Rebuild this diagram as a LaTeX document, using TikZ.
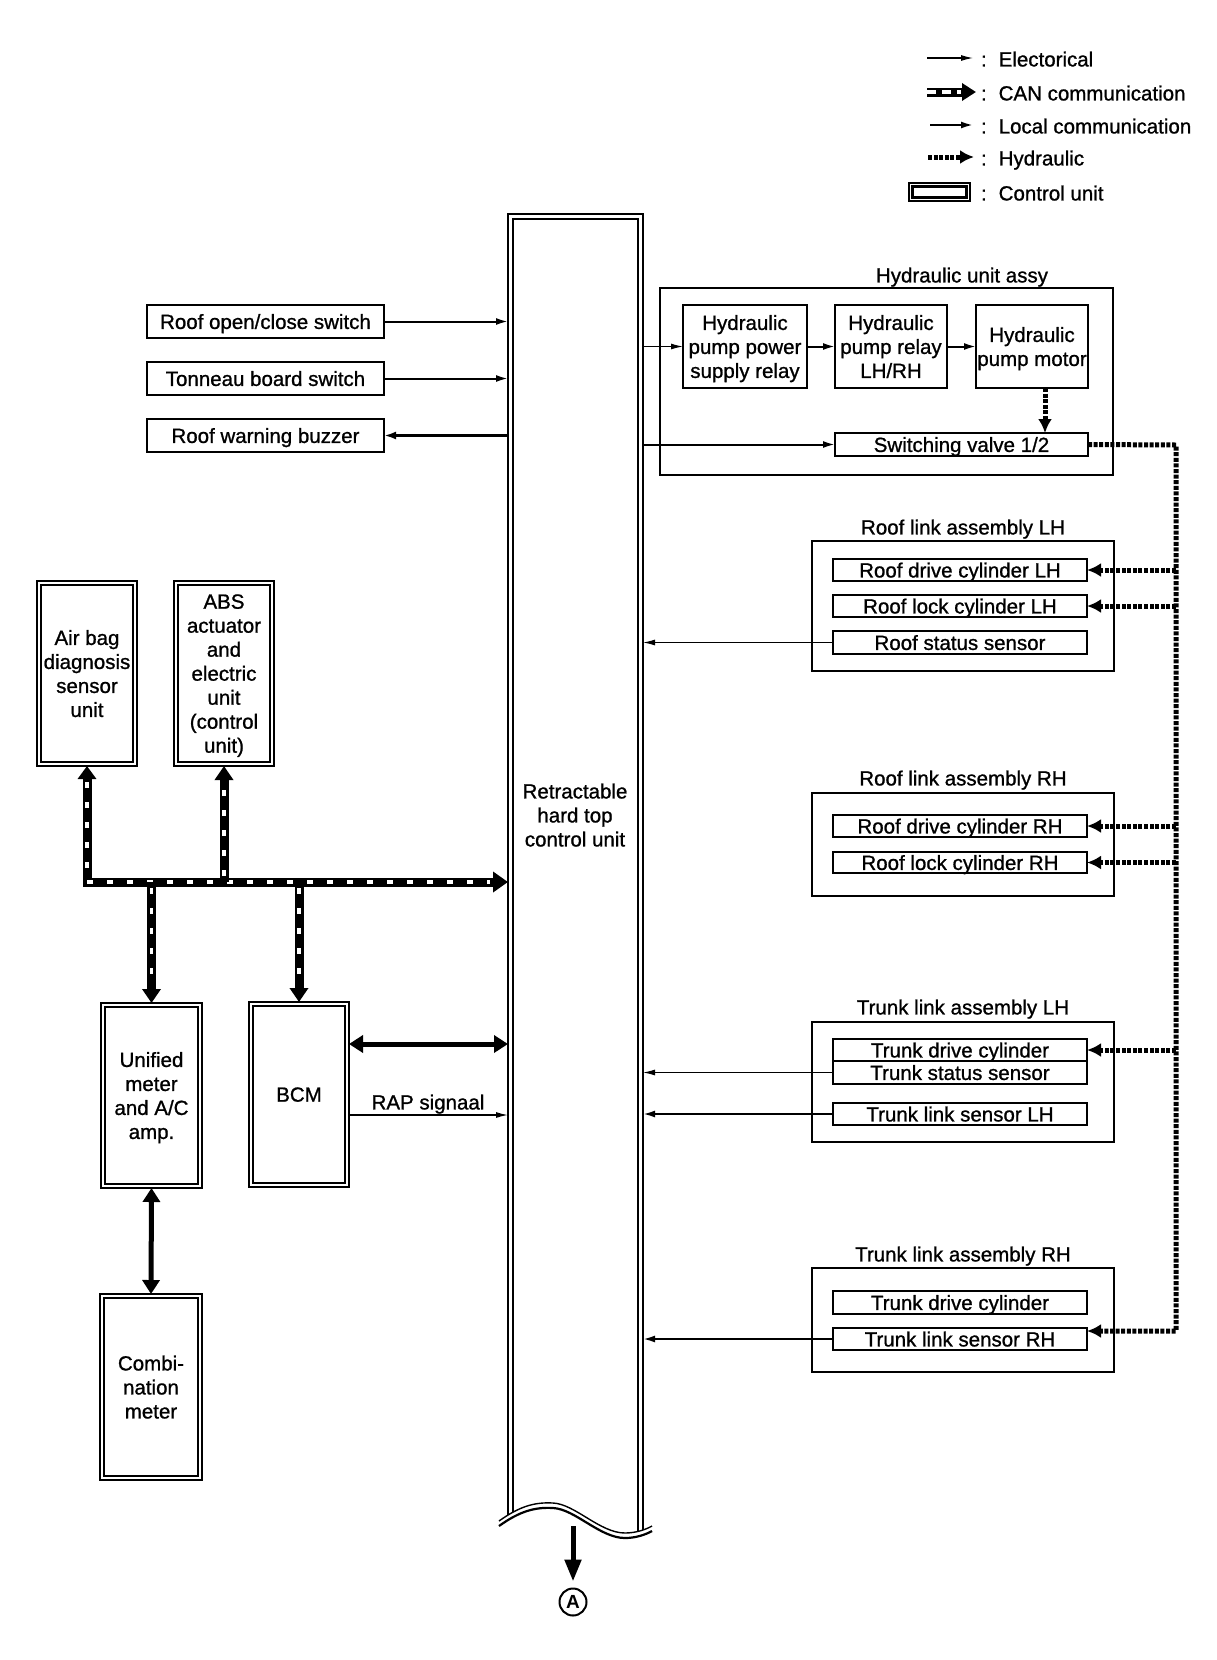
\documentclass[tikz,border=0pt]{standalone}
\usepackage{fontspec}
\setmainfont{Liberation Sans}[UprightFeatures={FakeBold=1}]
\usetikzlibrary{arrows.meta}
\newcommand\mybox[7]{\node[#6, minimum width={#4-#2}, minimum height={#5-#3}] (#1) at ({(#2+#4)/2},{(#3+#5)/2}) {#7};}
\begin{document}
\begin{tikzpicture}[x=1pt,y=-1pt,
  base/.style={font=\fontsize{20.5}{24}\selectfont, inner sep=0pt, outer sep=0pt, align=center, text depth=0pt},
  bx/.style={base, draw, line width=2.2pt},
  sbx/.style={base, draw, line width=1.8pt},
  grp/.style={base, draw, line width=1.6pt},
  cu/.style={base, draw, line width=1.1pt},
  lbl/.style={base},
  el/.style={line width=1.1pt, -{Latex[length=12pt,width=6pt]}},
  loc/.style={line width=2pt, -{Latex[length=12pt,width=7pt]}},
  locb/.style={line width=3pt, -{Latex[length=12pt,width=8pt]}},
  hyd/.style={line width=5pt, dash pattern=on 4pt off 1.6pt},
  hydtip/.style={-{Latex[length=14pt,width=14pt]}},
  canb/.style={line width=9pt},
  canw/.style={line width=3.5pt, white, dash pattern=on 6pt off 14pt},
  dblarr/.style={line width=5pt, {Triangle[length=14pt,width=17pt]}-{Triangle[length=14pt,width=17pt]}},
  cantip/.style={-{Triangle[length=14pt,width=18pt]}}
]
\useasboundingbox (0,0) rectangle (1216,1660);

% ---------- legend ----------
\coordinate (l1a) at (927,58);  \coordinate (l1b) at (973,58);
\coordinate (l2a) at (927,92);  \coordinate (l2b) at (976,92);
\coordinate (l3a) at (930,125); \coordinate (l3b) at (973,125);
\coordinate (l4a) at (928,157); \coordinate (l4b) at (974,157);
\draw[el] (l1a) -- (l1b);
\draw[canb, -{Triangle[length=14pt,width=17pt]}] (l2a) -- (l2b);
\draw[line width=3.5pt, white, dash pattern=on 9pt off 6pt, shorten >=15pt] (l2a) -- (l2b);
\draw[loc] (l3a) -- (l3b);
\draw[hyd, hydtip] (l4a) -- (l4b);
\mybox{legcu}{909}{183}{970}{201}{cu}{}
\draw[line width=2.4pt] ([shift={(3.5,3.5)}]legcu.north west) rectangle ([shift={(-3.5,-3.5)}]legcu.south east);
\node[lbl, anchor=west] (lt1) at (981,59)  {{:}\hspace{12pt}Electorical};
\node[lbl, anchor=west] (lt2) at (981,93)  {{:}\hspace{12pt}CAN communication};
\node[lbl, anchor=west] (lt3) at (981,126) {{:}\hspace{12pt}Local communication};
\node[lbl, anchor=west] (lt4) at (981,158) {{:}\hspace{12pt}Hydraulic};
\node[lbl, anchor=west] (lt5) at (981,193) {{:}\hspace{12pt}Control unit};

% ---------- central unit ----------
\node[minimum width=135pt, minimum height=1311pt, inner sep=0pt, outer sep=0pt] (rhcu) at (575.5,869.5) {};
\begin{scope}
\clip (480,200) -- (480,1521) -- (499,1521) .. controls (520,1506) and (535,1502) .. (553,1503)
  .. controls (575,1504) and (600,1533) .. (625,1533) .. controls (635,1533) and (645,1530) .. (652,1526)
  -- (680,1526) -- (680,200) -- cycle;
\draw[line width=1.1pt] (508,1560) -- (508,214) -- (643,214) -- (643,1560);
\draw[line width=2.2pt] (513,1560) -- (513,219) -- (638,219) -- (638,1560);
\end{scope}
\draw[line width=1.4pt] (499,1521) .. controls (520,1506) and (535,1502) .. (553,1503)
  .. controls (575,1504) and (600,1533) .. (625,1533) .. controls (635,1533) and (645,1530) .. (652,1526);
\draw[line width=2.2pt] (499,1526) .. controls (520,1511) and (535,1507) .. (553,1508)
  .. controls (575,1509) and (600,1538) .. (625,1538) .. controls (635,1538) and (645,1535) .. (652,1531);
\node[lbl] (rhcut) at (575,815) {Retractable\\hard top\\control unit};
\coordinate (cubot) at (573,1526);
\node[circle, draw, line width=2pt, minimum size=27pt, inner sep=0pt, font=\fontsize{19}{19}\selectfont\bfseries] (cA) at (573,1602) {A};
\draw[line width=5pt, -{Triangle[length=22pt,width=16pt]}, shorten >=6pt] (cubot) -- (cA.north);

% ---------- left switches ----------
\mybox{sw1}{147}{305}{384}{338}{bx}{Roof open/close switch}
\mybox{sw2}{147}{362}{384}{395}{bx}{Tonneau board switch}
\mybox{buz}{147}{419}{384}{452}{bx}{Roof warning buzzer}
\draw[loc] (sw1.east) -- (sw1.east -| rhcu.west);
\draw[loc] (sw2.east) -- (sw2.east -| rhcu.west);
\draw[locb] (buz.east -| rhcu.west) -- (buz.east);

% ---------- hydraulic unit assy ----------
\node[lbl] (hgt) at (962,275) {Hydraulic unit assy};
\mybox{hgrp}{660}{288}{1113}{475}{grp}{}
\mybox{b1}{683}{305}{807}{388}{bx}{Hydraulic\\pump power\\supply relay}
\mybox{b2}{835}{305}{947}{388}{bx}{Hydraulic\\pump relay\\LH/RH}
\mybox{b3}{976}{305}{1088}{388}{bx}{Hydraulic\\pump motor}
\mybox{sv}{835}{433}{1088}{456}{sbx}{Switching valve 1/2}
\draw[el] (b1.west -| rhcu.east) -- (b1.west);
\draw[loc] (b1.east) -- (b2.west);
\draw[loc] (b2.east) -- (b3.west);
\draw[loc] (sv.west -| rhcu.east) -- (sv.west);
\coordinate (hx) at (1045,0);
\draw[hyd, hydtip] (b3.south -| hx) -- (sv.north -| hx);

% ---------- roof link LH ----------
\node[lbl] (rlt) at (963,527) {Roof link assembly LH};
\mybox{rlgrp}{812}{541}{1114}{671}{grp}{}
\mybox{rdl}{833}{559}{1087}{581}{sbx}{Roof drive cylinder LH}
\mybox{rll}{833}{595}{1087}{617}{sbx}{Roof lock cylinder LH}
\mybox{rss}{833}{631}{1087}{654}{sbx}{Roof status sensor}
\draw[el] (rss.west) -- (rss.west -| rhcu.east);

% ---------- roof link RH ----------
\node[lbl] (rrt) at (963,778) {Roof link assembly RH};
\mybox{rrgrp}{812}{793}{1114}{896}{grp}{}
\mybox{rdr}{833}{815}{1087}{837}{sbx}{Roof drive cylinder RH}
\mybox{rlr}{833}{852}{1087}{873}{sbx}{Roof lock cylinder RH}

% ---------- trunk link LH ----------
\node[lbl] (tlt) at (963,1007) {Trunk link assembly LH};
\mybox{tlgrp}{812}{1022}{1114}{1142}{grp}{}
\mybox{tdc}{833}{1039}{1087}{1061}{sbx}{Trunk drive cylinder}
\mybox{tss}{833}{1061}{1087}{1084}{sbx}{Trunk status sensor}
\mybox{tll}{833}{1103}{1087}{1125}{sbx}{Trunk link sensor LH}
\draw[el] (tss.west) -- (tss.west -| rhcu.east);
\draw[loc] (tll.west) -- (tll.west -| rhcu.east);

% ---------- trunk link RH ----------
\node[lbl] (trt) at (963,1254) {Trunk link assembly RH};
\mybox{trgrp}{812}{1268}{1114}{1372}{grp}{}
\mybox{tdr}{833}{1291}{1087}{1314}{sbx}{Trunk drive cylinder}
\mybox{tlr}{833}{1328}{1087}{1350}{sbx}{Trunk link sensor RH}
\draw[loc] (tlr.west) -- (tlr.west -| rhcu.east);

% ---------- hydraulic lines ----------
\coordinate (htop) at (1176,445);
\coordinate (hbot) at (1176,1331);
\draw[hyd, hydtip] (sv.east) -- (htop) -- (hbot) -- (hbot -| tlr.east);
\draw[hyd, hydtip] (rdl.east -| htop) -- (rdl.east);
\draw[hyd, hydtip] (rll.east -| htop) -- (rll.east);
\draw[hyd, hydtip] (rdr.east -| htop) -- (rdr.east);
\draw[hyd, hydtip] (rlr.east -| htop) -- (rlr.east);
\draw[hyd, hydtip] (tdc.east -| htop) -- (tdc.east);

% ---------- CAN control units ----------
\mybox{airbag}{37}{581}{137}{766}{cu}{Air bag\\diagnosis\\sensor\\unit}
\mybox{abs}{174}{581}{274}{766}{cu}{ABS\\actuator\\and\\electric\\unit\\(control\\unit)}
\mybox{unified}{101}{1003}{202}{1188}{cu}{Unified\\meter\\and A/C\\amp.}
\mybox{bcm}{249}{1002}{349}{1187}{cu}{BCM}
\mybox{combi}{100}{1294}{202}{1480}{cu}{Combi-\\nation\\meter}
\foreach \n in {airbag,abs,unified,bcm,combi}
  \draw[line width=2.4pt] ([shift={(4,4)}]\n.north west) rectangle ([shift={(-4,-4)}]\n.south east);

\coordinate (canc) at (87,882);
\draw[canb, {Triangle[length=13pt,width=18pt]}-{Triangle[length=15pt,width=20pt]}] (airbag.south) -- (canc) -- (canc -| rhcu.west);
\draw[canw, shorten <=16pt, shorten >=18pt] (airbag.south) -- (canc) -- (canc -| rhcu.west);
\draw[canb, cantip] (abs.south |- canc) -- (abs.south);
\draw[canw, shorten <=6pt, shorten >=16pt] (abs.south |- canc) -- (abs.south);
\draw[canb, cantip] (unified.north |- canc) -- (unified.north);
\draw[canw, shorten <=6pt, shorten >=16pt] (unified.north |- canc) -- (unified.north);
\draw[canb, cantip] (bcm.north |- canc) -- (bcm.north);
\draw[canw, shorten <=6pt, shorten >=16pt] (bcm.north |- canc) -- (bcm.north);

\coordinate (bcmy) at (0,1044);
\draw[dblarr] (bcm.east |- bcmy) -- (bcmy -| rhcu.west);
\coordinate (rapy) at (0,1115);
\draw[line width=1.3pt, -{Latex[length=12pt,width=6pt]}] (bcm.east |- rapy) -- (rapy -| rhcu.west);
\node[lbl] (rap) at (428,1102) {RAP signaal};
\draw[dblarr] (unified.south) -- (combi.north);
\end{tikzpicture}
\end{document}
